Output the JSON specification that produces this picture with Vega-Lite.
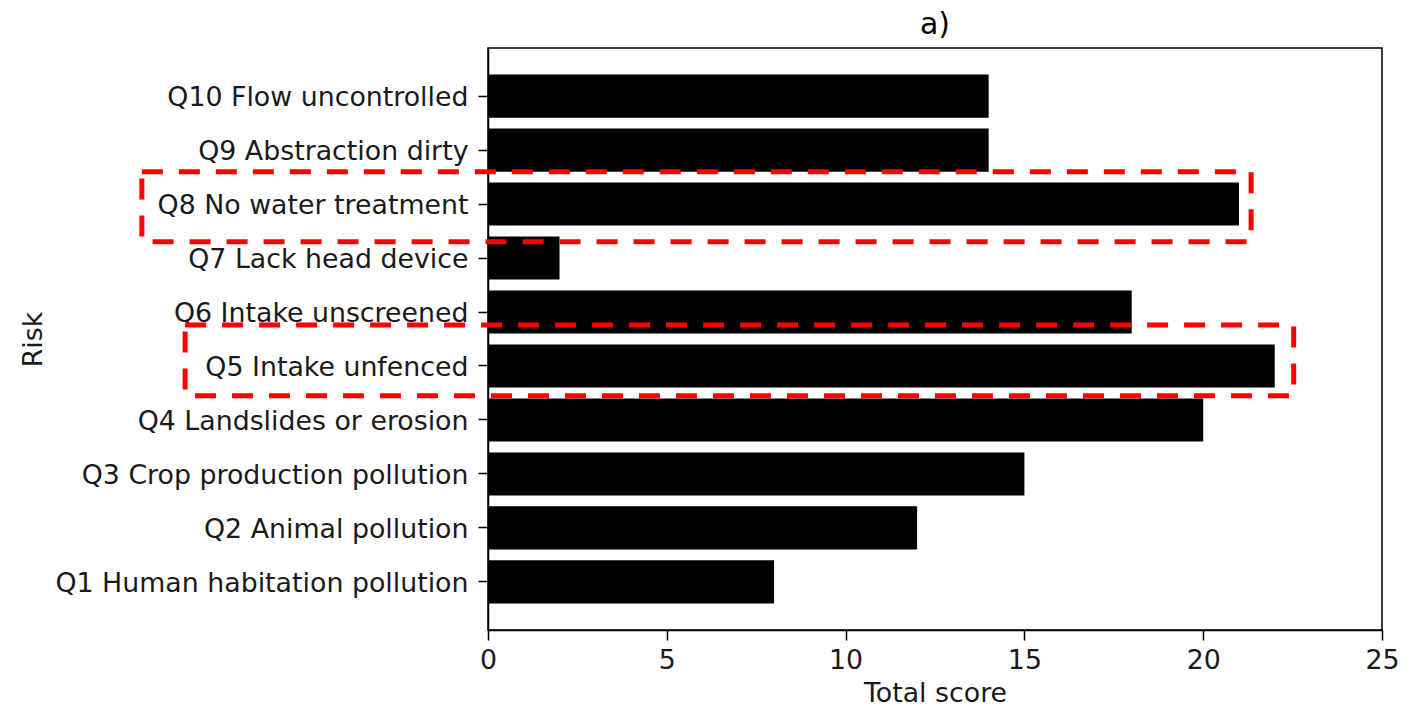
{
  "$schema": "https://vega.github.io/schema/vega-lite/v6.json",
  "autosize": {"type": "none"},
  "padding": {"left": 488, "top": 48, "right": 30, "bottom": 84},
  "width": 894,
  "height": 582,
  "background": "white",
  "title": {"text": "a)", "fontSize": 30, "font": "DejaVu Sans", "fontWeight": "normal", "color": "black", "offset": 8, "anchor": "middle"},
  "config": {
    "font": "DejaVu Sans",
    "view": {"stroke": "black", "strokeWidth": 1.5},
    "axis": {
      "domainColor": "black", "domainWidth": 1.5,
      "tickColor": "black", "tickWidth": 1.5, "tickSize": 10,
      "labelFont": "DejaVu Sans", "labelFontSize": 26.8, "labelColor": "#1a1a1a",
      "titleFont": "DejaVu Sans", "titleFontSize": 26.8, "titleFontWeight": "normal", "titleColor": "#1a1a1a",
      "grid": false
    }
  },
  "datasets": {
    "risks": [
      {"risk": "Q10 Flow uncontrolled", "score": 14},
      {"risk": "Q9 Abstraction dirty", "score": 14},
      {"risk": "Q8 No water treatment", "score": 21},
      {"risk": "Q7 Lack head device", "score": 2},
      {"risk": "Q6 Intake unscreened", "score": 18},
      {"risk": "Q5 Intake unfenced", "score": 22},
      {"risk": "Q4 Landslides or erosion", "score": 20},
      {"risk": "Q3 Crop production pollution", "score": 15},
      {"risk": "Q2 Animal pollution", "score": 12},
      {"risk": "Q1 Human habitation pollution", "score": 8}
    ],
    "boxes": [
      {"label": "Q8", "x1": -9.68, "x2": 21.34, "y1": 6.30, "y2": 7.60},
      {"label": "Q5", "x1": -8.47, "x2": 22.53, "y1": 3.45, "y2": 4.76}
    ]
  },
  "layer": [
    {
      "data": {"name": "risks"},
      "mark": {"type": "bar", "color": "black"},
      "encoding": {
        "y": {
          "field": "risk", "type": "nominal", "sort": null,
          "scale": {"paddingInner": 0.2, "paddingOuter": 0.49},
          "axis": {"title": "Risk", "labelPadding": 10, "labelLimit": 600, "labelOffset": 2, "titleX": -455, "titleY": 291, "titleAngle": -90, "titleAlign": "center", "titleBaseline": "middle"}
        },
        "x": {
          "field": "score", "type": "quantitative",
          "scale": {"domain": [0, 25], "nice": false},
          "axis": {"title": "Total score", "values": [0, 5, 10, 15, 20, 25], "labelFlush": false, "labelPadding": 7, "titlePadding": 7}
        }
      }
    },
    {
      "data": {"name": "boxes"},
      "mark": {"type": "rect", "fill": null, "filled": false, "stroke": "red", "strokeWidth": 5, "strokeDash": [21, 16], "clip": false},
      "encoding": {
        "x": {"field": "x1", "type": "quantitative"},
        "x2": {"field": "x2"},
        "y": {"field": "y1", "type": "quantitative", "scale": {"domain": [-0.89, 9.89], "nice": false, "zero": false}, "axis": null},
        "y2": {"field": "y2"}
      }
    }
  ],
  "resolve": {"scale": {"y": "independent"}, "axis": {"y": "independent"}}
}
